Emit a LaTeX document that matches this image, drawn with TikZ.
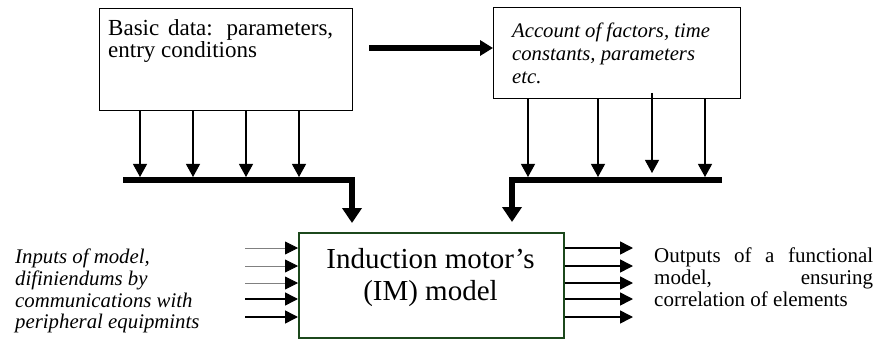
\documentclass[tikz,border=0pt]{standalone}
\usepackage{fontspec}
\setmainfont{Liberation Serif}
\usetikzlibrary{arrows.meta}
\definecolor{boxgreen}{RGB}{28,72,28}
\tikzset{
  box/.style={draw=black, line width=1.2pt, fill=white, inner sep=0pt},
  imbox/.style={draw=boxgreen, line width=1.6pt, inner sep=0pt},
  thinarrow/.style={line width=1.1pt, -{Triangle[length=13pt,width=14pt]}},
  grayarrow/.style={line width=0.8pt, draw=gray, -{Triangle[length=13pt,width=13pt,fill=black,color=black]}},
  blackarrow/.style={line width=1.5pt, -{Triangle[length=13pt,width=13pt]}},
  bus/.style={line width=6pt, line join=miter, -{Triangle[length=15pt,width=19pt]}},
  bigarrow/.style={line width=6pt, -{Triangle[length=13pt,width=15pt]}},
  txt/.style={anchor=north west, inner sep=0pt, align=left, font=\fontsize{21.5}{22}\selectfont},
}
\begin{document}
\begin{tikzpicture}[x=1pt,y=-1pt]
\useasboundingbox (0,0) rectangle (885,339);
% boxes
\node[box, minimum width=253pt, minimum height=102pt, anchor=north west] (box1) at (99,8) {};
\node[box, minimum width=247pt, minimum height=91pt, anchor=north west] (box2) at (493,7) {};
\node[imbox, minimum width=265pt, minimum height=105pt, anchor=north west] (im) at (298,232) {};
% texts
\node[txt, font=\fontsize{23}{22.5}\selectfont] (t1) at (108,19.3) {\makebox[225pt][s]{Basic data: parameters,}\\entry conditions};
\node[txt, font=\fontsize{20.7}{22.8}\selectfont\itshape] (t2) at (512,22.9) {Account of factors, time\\constants, parameters\\etc.};
\node[anchor=north, inner sep=0pt, align=center, font=\fontsize{29}{32}\selectfont] (imtext) at (430.5,248.2) {Induction motor’s\\(IM) model};
\node[txt, font=\fontsize{20.8}{21.7}\selectfont\itshape] (tin) at (15,248.8) {Inputs of model,\\difiniendums by\\communications with\\peripheral equipmints};
\node[txt, font=\fontsize{21}{21.7}\selectfont] (tout) at (654,247.7) {\makebox[219pt][s]{Outputs of a functional}\\\makebox[219pt][s]{model, ensuring}\\correlation of elements};
% top horizontal arrow
\coordinate (hstart) at (369,48);
\draw[bigarrow] (hstart) -- (box2.west |- hstart);
% arrows from box1 to bus
\foreach \x [count=\i] in {140,193,246,299} {
  \coordinate (a\i) at (\x,177);
  \draw[thinarrow] (box1.south -| a\i) -- (a\i);
}
% arrows from box2 to bus
\foreach \x [count=\i] in {528,598,705} {
  \coordinate (b\i) at (\x,177);
  \draw[thinarrow] (box2.south -| b\i) -- (b\i);
}
\coordinate (b4s) at (652,93);
\coordinate (b4) at (652,173);
\draw[thinarrow] (b4s) -- (b4);
% buses
\coordinate (bus1s) at (123,180);
\coordinate (bus1c) at (352,180);
\coordinate (bus1e) at (352,223);
\draw[bus] (bus1s) -- (bus1c) -- (bus1e);
\coordinate (bus2s) at (722,180);
\coordinate (bus2c) at (512,180);
\coordinate (bus2e) at (512,222);
\draw[bus] (bus2s) -- (bus2c) -- (bus2e);
% inputs and outputs
\foreach \y [count=\i] in {248,266,283,299,317} {
  \coordinate (in\i) at (245,\y);
  \coordinate (out\i) at (633,\y);
}
\foreach \i in {1,2,3} \draw[grayarrow] (in\i) -- (im.west |- in\i);
\foreach \i in {4,5} \draw[blackarrow] (in\i) -- (im.west |- in\i);
\foreach \i in {1,...,5} \draw[blackarrow] (im.east |- out\i) -- (out\i);
\end{tikzpicture}
\end{document}
